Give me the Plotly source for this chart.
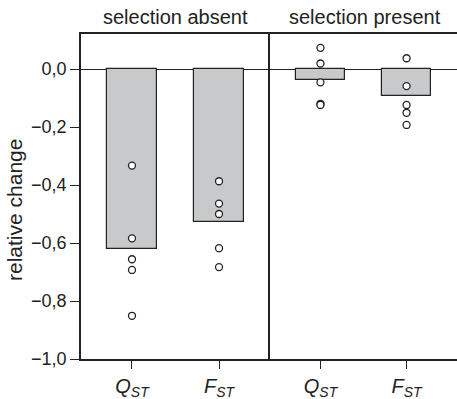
import plotly.graph_objects as go
from plotly.subplots import make_subplots

# Categories and tick labels
categories = ["QST", "FST"]
tick_labels = ["<i>Q</i><sub><i>ST</i></sub>", "<i>F</i><sub><i>ST</i></sub>"]
panel_titles = ["selection absent", "selection present"]

# Mean relative change (bars)
absent_means = [-0.621, -0.528]
present_means = [-0.039, -0.092]

# Individual replicate values (points)
absent_q_points = [-0.333, -0.584, -0.656, -0.693, -0.851]
absent_f_points = [-0.387, -0.464, -0.500, -0.618, -0.683]
present_q_points = [0.073, 0.019, -0.046, -0.120, -0.124]
present_f_points = [0.037, -0.059, -0.124, -0.151, -0.193]

W, H = 457, 399
left_px, mid_px = 81, 270
top_px, bottom_px = 34, 359

FONT = "Arial, Liberation Sans, Helvetica, sans-serif"
DARK = "#222222"
BAR_FILL = "#c8c9cb"

fig = make_subplots(rows=1, cols=2, shared_yaxes=True, horizontal_spacing=0)

panels = [
    (absent_means, absent_q_points, absent_f_points),
    (present_means, present_q_points, present_f_points),
]

for col, (means, q_pts, f_pts) in enumerate(panels, start=1):
    fig.add_trace(
        go.Bar(
            x=categories,
            y=means,
            width=0.575,
            marker=dict(color=BAR_FILL, line=dict(color=DARK, width=1.2)),
            showlegend=False,
        ),
        row=1, col=col,
    )
    xs = [categories[0]] * len(q_pts) + [categories[1]] * len(f_pts)
    ys = list(q_pts) + list(f_pts)
    fig.add_trace(
        go.Scatter(
            x=xs,
            y=ys,
            mode="markers",
            marker=dict(symbol="circle", size=7, color="white",
                        line=dict(color=DARK, width=1.3)),
            showlegend=False,
        ),
        row=1, col=col,
    )

y_top = (bottom_px - top_px) / 290 - 1.0  # 0.2 per 58 px

xaxis_common = dict(
    type="category",
    range=[-0.586, 1.586],
    showline=True, linecolor=DARK, linewidth=1.5, mirror=True,
    ticks="outside", ticklen=8, tickwidth=1.2, tickcolor=DARK,
    tickmode="array", tickvals=categories, ticktext=tick_labels,
    tickfont=dict(family=FONT, size=20, color=DARK),
    showgrid=False, zeroline=False, fixedrange=True,
)
fig.update_xaxes(**xaxis_common)
fig.update_layout(
    xaxis=dict(domain=[left_px / W, mid_px / W]),
    xaxis2=dict(domain=[mid_px / W, 1.0]),
)

fig.update_yaxes(
    range=[-1.0, y_top],
    showgrid=False,
    zeroline=True, zerolinecolor=DARK, zerolinewidth=1.2,
    showline=True, linecolor=DARK, linewidth=1.5,
    fixedrange=True,
)
fig.update_layout(
    yaxis=dict(
        tickmode="array", tickvals=[-1.0, -0.8, -0.6, -0.4, -0.2, 0.0],
        tickformat=".1f", ticks="outside", ticklen=9, tickwidth=1.2,
        tickcolor=DARK, tickfont=dict(family=FONT, size=18, color=DARK),
    ),
    yaxis2=dict(ticks="", showticklabels=False),
)

plot_h = bottom_px - top_px
annotations = []
for i, title in enumerate(panel_titles):
    x0 = left_px if i == 0 else mid_px
    x1 = mid_px if i == 0 else mid_px + (mid_px - left_px)
    annotations.append(dict(
        text=title, xref="paper", yref="paper",
        x=(x0 + x1) / 2 / W, y=(bottom_px - 17) / plot_h,
        xanchor="center", yanchor="middle", showarrow=False,
        font=dict(family=FONT, size=20, color=DARK),
    ))
annotations.append(dict(
    text="relative change", xref="paper", yref="paper",
    x=14 / W, y=(bottom_px - 210) / plot_h,
    xanchor="center", yanchor="middle", textangle=-90, showarrow=False,
    font=dict(family=FONT, size=21, color=DARK),
))

fig.update_layout(
    width=W, height=H,
    margin=dict(l=0, r=0, t=top_px, b=H - bottom_px, pad=0),
    paper_bgcolor="white", plot_bgcolor="white",
    separators=", ",
    annotations=annotations,
    bargap=0,
)

fig.write_html("out.html", config={"displayModeBar": False})
